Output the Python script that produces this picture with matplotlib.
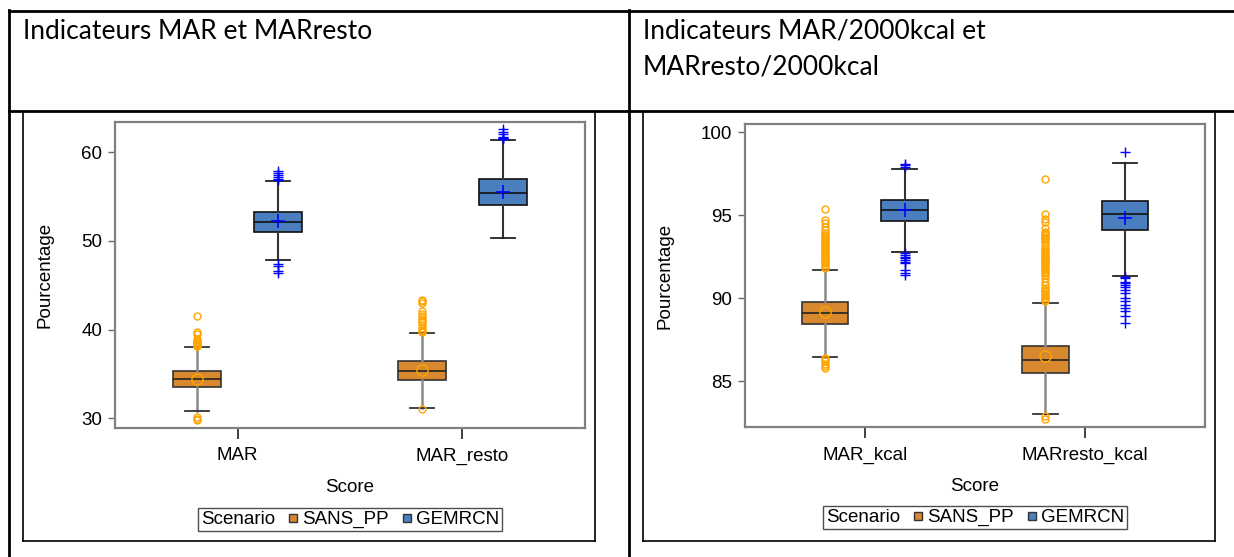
import matplotlib
matplotlib.use('Agg')
import matplotlib.pyplot as plt
from matplotlib.lines import Line2D

plt.rcParams['font.family'] = ['Liberation Sans', 'DejaVu Sans']

# data
groups = ['SANS_PP', 'GEMRCN']
left_scores = ['MAR', 'MAR_resto']
right_scores = ['MAR_kcal', 'MARresto_kcal']

# (whislo, q1, med, q3, whishi, mean) per score
left_sans = [(30.8, 33.5, 34.4, 35.3, 38.0, 34.45),
             (31.2, 34.3, 35.3, 36.4, 39.6, 35.4)]
left_gem = [(47.85, 51.0, 52.1, 53.3, 56.75, 52.2),
            (50.3, 54.0, 55.4, 56.95, 61.4, 55.55)]
left_sans_fliers = [[29.8, 29.9, 30.1, 38.1, 38.2, 38.3, 38.4, 38.5, 38.6, 38.7, 38.9, 39.5, 39.7, 41.5],
                    [31.0, 39.7, 39.8, 40.0, 40.2, 40.5, 40.8, 41.0, 41.2, 41.5, 41.8, 42.1, 43.0, 43.2, 43.3]]
left_gem_fliers = [[46.4, 46.6, 47.2, 47.4, 56.9, 57.0, 57.2, 57.4, 57.6, 57.9],
                   [61.5, 61.55, 61.6, 61.7, 62.0, 62.3, 62.6]]

right_sans = [(86.45, 88.43, 89.1, 89.74, 91.67, 89.15),
              (83.0, 85.46, 86.28, 87.13, 89.68, 86.5)]
right_gem = [(92.8, 94.68, 95.34, 95.9, 97.8, 95.3),
             (91.33, 94.08, 95.08, 95.86, 98.17, 94.84)]
right_sans_fliers = [[85.8, 85.9, 86.0, 86.2, 86.3, 86.4,
                      91.8, 91.9, 92.0, 92.1, 92.2, 92.3, 92.4, 92.5, 92.6, 92.7, 92.8, 92.9,
                      93.0, 93.1, 93.2, 93.3, 93.4, 93.5, 93.6, 93.7, 93.8, 93.9,
                      94.1, 94.3, 94.5, 94.7, 95.4],
                     [82.7, 82.9,
                      89.8, 89.9, 90.0, 90.1, 90.2, 90.3, 90.4, 90.5, 90.6, 90.8, 91.0, 91.2,
                      91.4, 91.5, 91.6, 91.7, 91.8, 91.9, 92.0, 92.1, 92.2, 92.3, 92.4, 92.5,
                      92.6, 92.7, 92.8, 92.9, 93.0, 93.2, 93.4, 93.5, 93.6, 93.7, 93.8, 93.9,
                      94.0, 94.2, 94.6, 94.8, 95.1, 97.2]]
right_gem_fliers = [[91.4, 91.5, 91.7, 92.1, 92.2, 92.3, 92.4, 92.5, 92.6, 92.7, 97.9, 98.0, 98.1],
                    [88.5, 88.9, 89.2, 89.4, 89.6, 89.8, 90.0, 90.3, 90.5, 90.7, 90.8, 90.9,
                     91.0, 91.2, 91.3, 98.8]]

orange = '#D8892F'
blue = '#4A7EBF'
W, H = 1234, 557
FS = 13.5


def fx(x):
    return x / W


def fy(y):
    return 1 - y / H


def stats_of(vals, fliers):
    lo, q1, med, q3, hi, mean = vals
    return dict(whislo=lo, q1=q1, med=med, q3=q3, whishi=hi, mean=mean, fliers=fliers)


def draw_panel(ax, scores, sans, gem, sans_fl, gem_fl, ylim, yticks, ylabelpad):
    for i in range(len(scores)):
        ax.bxp([stats_of(sans[i], sans_fl[i])], positions=[i - 0.18], widths=0.21,
               showmeans=True, patch_artist=True, manage_ticks=False, capwidths=0.11,
               boxprops=dict(facecolor=orange, edgecolor='#333333', lw=1.2),
               medianprops=dict(color='#222222', lw=1.2),
               whiskerprops=dict(color='#8a8a8a', lw=1.8),
               capprops=dict(color='#333333', lw=1.3),
               flierprops=dict(marker='o', mfc='none', mec='#FFA500', ms=5, mew=1),
               meanprops=dict(marker='o', mfc='none', mec='#FFA500', ms=8, mew=1))
        ax.bxp([stats_of(gem[i], gem_fl[i])], positions=[i + 0.18], widths=0.21,
               showmeans=True, patch_artist=True, manage_ticks=False, capwidths=0.11,
               boxprops=dict(facecolor=blue, edgecolor='#111111', lw=1.2),
               medianprops=dict(color='#111111', lw=1.2),
               whiskerprops=dict(color='#333333', lw=1.5),
               capprops=dict(color='#222222', lw=1.3),
               flierprops=dict(marker='+', mfc='none', mec='#0000FF', ms=7, mew=1),
               meanprops=dict(marker='+', mfc='none', mec='#0000FF', ms=10, mew=1.2))
    ax.set_xlim(-0.545, 1.545)
    ax.set_ylim(*ylim)
    ax.set_yticks(yticks)
    ax.set_xticks(range(len(scores)))
    ax.set_xticklabels(scores)
    ax.tick_params(axis='y', length=5, width=1, color='#666666', labelsize=FS, pad=4)
    ax.tick_params(axis='x', length=8, width=1.2, color='#222222', labelsize=FS, pad=6)
    for s in ax.spines.values():
        s.set_color('#808080')
        s.set_linewidth(1.6)
    ax.set_xlabel('Score', fontsize=FS, labelpad=10)
    ax.set_ylabel('Pourcentage', fontsize=FS, labelpad=ylabelpad)
    handles = [Line2D([], [], ls='none', label='Scenario'),
               Line2D([], [], ls='none', marker='s', mfc=orange, mec='#333333', ms=6, label=groups[0]),
               Line2D([], [], ls='none', marker='s', mfc=blue, mec='#333333', ms=6, label=groups[1])]
    leg = ax.legend(handles=handles, ncol=3, loc='center', bbox_to_anchor=(0.5, -0.30),
                    fontsize=FS, handlelength=0.5, handletextpad=0.25, columnspacing=0.7,
                    borderpad=0.15, borderaxespad=0, fancybox=False, frameon=True)
    leg.get_frame().set_edgecolor('#222222')
    leg.get_frame().set_linewidth(1)
    # the "Scenario" entry is a title, so drop its empty handle slot
    row0 = leg._legend_handle_box.get_children()[0].get_children()[0]
    row0.get_children()[0].width = 0
    row0.sep = 0


fig = plt.figure(figsize=(12.34, 5.57), dpi=100)

ax1 = fig.add_axes([fx(115), fy(428), fx(585 - 115), (428 - 122) / H])
draw_panel(ax1, left_scores, left_sans, left_gem, left_sans_fliers, left_gem_fliers,
           (28.9, 63.4), [30, 40, 50, 60], 20)

ax2 = fig.add_axes([fx(745), fy(427), fx(1205 - 745), (427 - 124.3) / H])
draw_panel(ax2, right_scores, right_sans, right_gem, right_sans_fliers, right_gem_fliers,
           (82.23, 100.48), [85, 90, 95, 100], 20)

# table lines of the document
def line(x0, y0, x1, y1, lw=2.0):
    fig.add_artist(Line2D([fx(x0), fx(x1)], [fy(y0), fy(y1)], color='black', lw=lw))

line(9, 11, 1234, 11)
line(9, 111, 1234, 111)
line(9, 10, 9, 557)
line(629, 10, 629, 557)
# chart image borders
for x0, x1 in [(23, 595), (643, 1215)]:
    line(x0, 112, x0, 541, lw=1.2)
    line(x1, 112, x1, 541, lw=1.2)
    line(x0, 541, x1, 541, lw=1.2)

title_font = ['Lato', 'DejaVu Sans']
fig.text(fx(23), fy(39), 'Indicateurs MAR et MARresto', fontsize=19, family=title_font,
         va='baseline', ha='left')
fig.text(fx(643), fy(39), 'Indicateurs MAR/2000kcal et', fontsize=19, family=title_font,
         va='baseline', ha='left')
fig.text(fx(643), fy(75), 'MARresto/2000kcal', fontsize=19, family=title_font,
         va='baseline', ha='left')

fig.savefig('out.png', dpi=100)
